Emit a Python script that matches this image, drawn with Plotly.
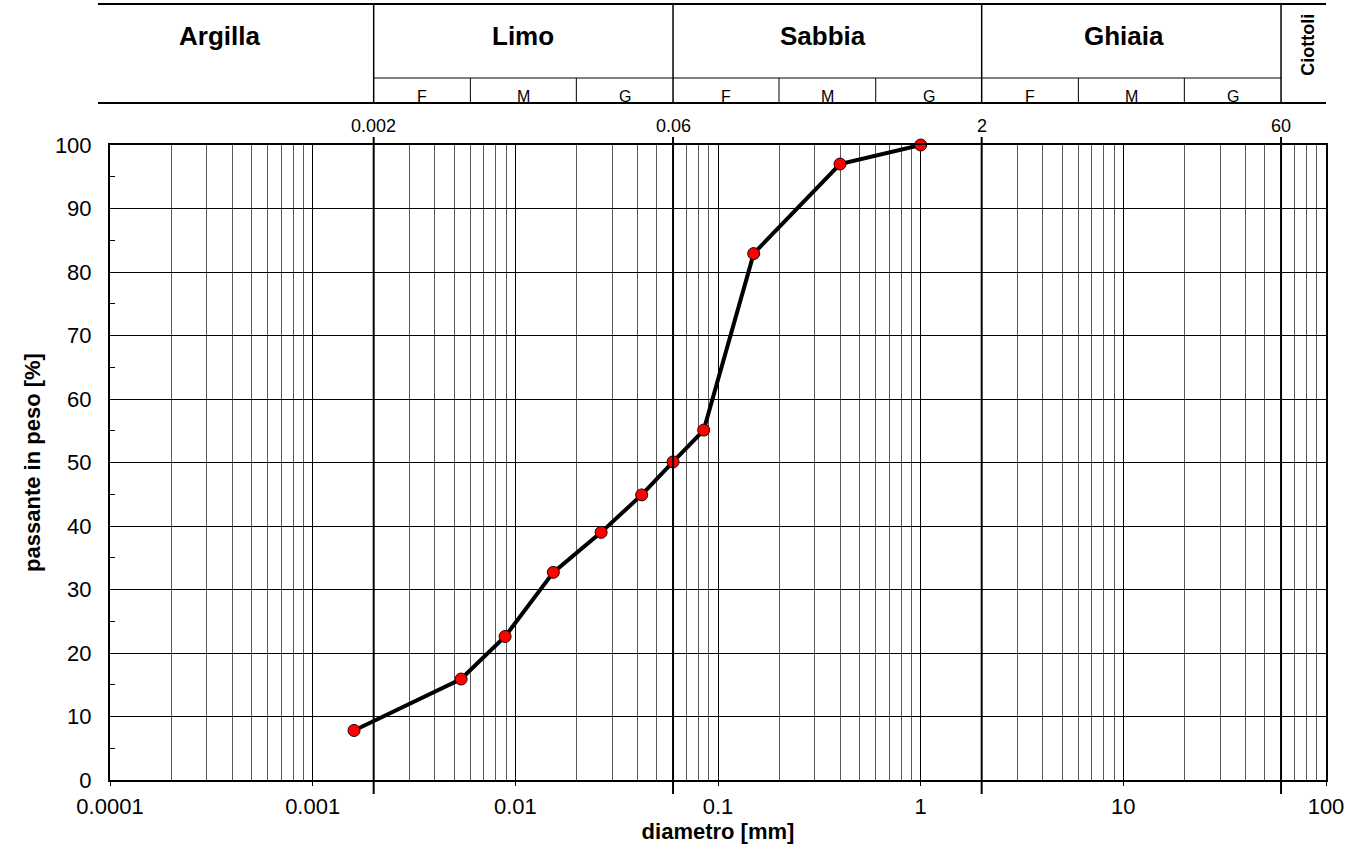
import math
import plotly.graph_objects as go

# Grain-size distribution: diameter [mm] vs percent passing
diametro = [0.0016, 0.0054, 0.0089, 0.0154, 0.0265, 0.042, 0.06, 0.085, 0.15, 0.40, 1.0]
passante = [7.8, 15.9, 22.6, 32.7, 39.0, 44.9, 50.1, 55.1, 82.9, 97.0, 100.0]

# Soil class limits [mm] and their names
limiti = [0.002, 0.06, 2, 60]
limiti_label = ["0.002", "0.06", "2", "60"]
classi = ["Argilla", "Limo", "Sabbia", "Ghiaia", "Ciottoli"]
sotto_limiti = [0.006, 0.02, 0.2, 0.6, 6, 20]
sottoclassi = ["F", "M", "G"]

x_min, x_max = 0.0001, 100
x_ticks = [0.0001, 0.001, 0.01, 0.1, 1, 10, 100]
x_ticklabels = ["0.0001", "0.001", "0.01", "0.1", "1", "10", "100"]
y_ticks = list(range(0, 101, 10))

FONT = "Liberation Sans, Arial, sans-serif"
lg = math.log10

# minor decade subdivisions 2..9 for the log grid
minor_vals = [k * 10 ** e for e in range(-4, 2) for k in range(2, 10)]

fig = go.Figure()
fig.add_trace(go.Scatter(
    x=diametro, y=passante, mode="lines+markers",
    line=dict(color="black", width=4),
    marker=dict(size=12, color="#ff0000", line=dict(color="#220000", width=1)),
    showlegend=False, cliponaxis=False,
))

shapes = []
annotations = []

# vertical class-limit lines through the plot
for v in limiti:
    shapes.append(dict(type="line", xref="x", yref="paper", x0=v, x1=v,
                       y0=-0.022, y1=1.0126, line=dict(color="black", width=2),
                       layer="above"))

# header table
Y_TOP, Y_MID, Y_BOT = 1.222, 1.1055, 1.066
shapes.append(dict(type="line", xref="paper", yref="paper", x0=-0.0099, x1=1.0,
                   y0=Y_TOP, y1=Y_TOP, line=dict(color="black", width=2)))
shapes.append(dict(type="line", xref="paper", yref="paper", x0=-0.0099, x1=1.0,
                   y0=Y_BOT, y1=Y_BOT, line=dict(color="black", width=2)))
shapes.append(dict(type="line", xref="x", yref="paper", x0=limiti[0], x1=limiti[-1],
                   y0=Y_MID, y1=Y_MID, line=dict(color="black", width=1)))
for v in limiti:
    shapes.append(dict(type="line", xref="x", yref="paper", x0=v, x1=v,
                       y0=Y_BOT, y1=Y_TOP, line=dict(color="black", width=1.5)))
for v in sotto_limiti:
    shapes.append(dict(type="line", xref="x", yref="paper", x0=v, x1=v,
                       y0=Y_BOT, y1=Y_MID, line=dict(color="black", width=1)))

# class names
bordi = [x_min] + limiti + [x_max]
name_shift = [-22, 0, -4, -7, 5]
for i, nome in enumerate(classi):
    xc = (lg(bordi[i]) + lg(bordi[i + 1])) / 2
    if nome == "Ciottoli":
        annotations.append(dict(x=xc, y=1.157, xref="x", yref="paper",
                                xanchor="center", yanchor="middle", xshift=name_shift[i],
                                text="<b>%s</b>" % nome, textangle=-90, showarrow=False,
                                font=dict(family=FONT, size=18, color="black")))
    else:
        annotations.append(dict(x=xc, y=1.1717, xref="x", yref="paper",
                                xanchor="center", yanchor="middle", xshift=name_shift[i],
                                text="<b>%s</b>" % nome, showarrow=False,
                                font=dict(family=FONT, size=26, color="black")))

# F / M / G sub-classes for Limo, Sabbia, Ghiaia
for j in range(3):
    lo, hi = limiti[j], limiti[j + 1]
    edges = [lo, sotto_limiti[2 * j], sotto_limiti[2 * j + 1], hi]
    for k, s in enumerate(sottoclassi):
        xc = (lg(edges[k]) + lg(edges[k + 1])) / 2
        annotations.append(dict(x=xc, y=1.0756, xref="x", yref="paper", text=s,
                                xanchor="center", yanchor="middle", showarrow=False,
                                font=dict(family=FONT, size=16, color="black")))

# limit values above the plot
for v, t in zip(limiti, limiti_label):
    annotations.append(dict(x=lg(v), y=1.03, xref="x", yref="paper", text=t,
                            xanchor="center", yanchor="middle", showarrow=False,
                            font=dict(family=FONT, size=18, color="black")))

fig.update_layout(
    width=1359, height=866,
    margin=dict(l=110, r=33, t=145, b=86, autoexpand=False),
    paper_bgcolor="white", plot_bgcolor="white",
    font=dict(family=FONT, color="black"),
    shapes=shapes, annotations=annotations,
    xaxis=dict(
        type="log", range=[lg(x_min), lg(x_max)],
        tickmode="array", tickvals=x_ticks, ticktext=x_ticklabels,
        ticks="outside", ticklen=4, tickcolor="black", tickwidth=1,
        tickfont=dict(family=FONT, size=22, color="black"),
        ticklabelstandoff=2,
        showgrid=True, gridcolor="black", gridwidth=1,
        minor=dict(tickmode="array", tickvals=minor_vals, showgrid=True,
                   gridcolor="#5a5a5a", gridwidth=1, ticks=""),
        showline=True, linecolor="black", linewidth=2, mirror=True,
        zeroline=False,
        title=dict(text="<b>diametro [mm]</b>", standoff=2,
                   font=dict(family=FONT, size=22, color="black")),
    ),
    yaxis=dict(
        range=[0, 100], tickmode="array", tickvals=y_ticks,
        ticks="inside", ticklen=5, tickcolor="black",
        tickfont=dict(family=FONT, size=22, color="black"),
        ticklabelstandoff=12,
        showgrid=True, gridcolor="black", gridwidth=1,
        minor=dict(dtick=5, ticks="inside", ticklen=5, tickcolor="black", showgrid=False),
        showline=True, linecolor="black", linewidth=2, mirror=True,
        zeroline=False,
        title=dict(text="<b>passante in peso [%]</b>", standoff=8,
                   font=dict(family=FONT, size=22, color="black")),
    ),
)

fig.write_html("out.html")
